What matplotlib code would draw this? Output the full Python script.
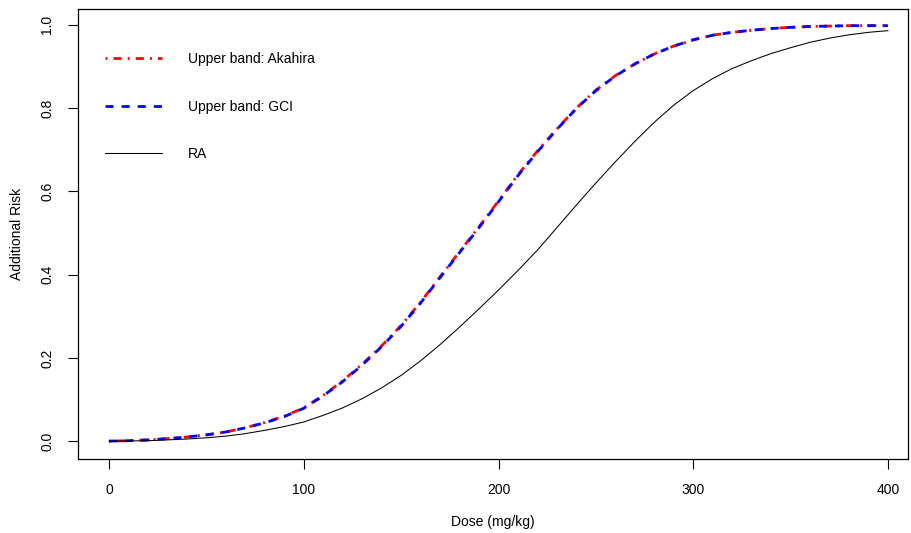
import numpy as np
import matplotlib.pyplot as plt

plt.rcParams['font.family'] = ['Liberation Sans', 'DejaVu Sans']

# doses and curves
dose = [0, 10, 20, 30, 40, 50, 60, 70, 80, 90, 100, 110, 120, 130, 140, 150,
        160, 170, 180, 190, 200, 210, 220, 230, 240, 250, 260, 270, 280, 290,
        300, 310, 320, 330, 340, 350, 360, 370, 380, 390, 400]
upper_akahira = [0.000, 0.001, 0.003, 0.006, 0.010, 0.015, 0.022, 0.032,
                 0.045, 0.060, 0.080, 0.110, 0.145, 0.185, 0.229, 0.278,
                 0.334, 0.395, 0.455, 0.515, 0.577, 0.640, 0.697, 0.750,
                 0.800, 0.843, 0.878, 0.906, 0.930, 0.949, 0.964, 0.975,
                 0.982, 0.987, 0.991, 0.994, 0.996, 0.997, 0.998, 0.998,
                 0.998]
upper_gci = [0.000, 0.001, 0.003, 0.006, 0.010, 0.015, 0.022, 0.032,
             0.044, 0.059, 0.079, 0.109, 0.143, 0.183, 0.227, 0.276,
             0.332, 0.393, 0.453, 0.513, 0.575, 0.638, 0.695, 0.749,
             0.799, 0.842, 0.877, 0.906, 0.930, 0.949, 0.964, 0.975,
             0.982, 0.987, 0.991, 0.994, 0.996, 0.997, 0.998, 0.998,
             0.998]
ra = [0.000, 0.0005, 0.001, 0.003, 0.005, 0.008, 0.012, 0.018, 0.026, 0.035,
      0.046, 0.062, 0.080, 0.102, 0.128, 0.158, 0.193, 0.232, 0.274, 0.318,
      0.363, 0.410, 0.459, 0.513, 0.567, 0.620, 0.671, 0.720, 0.766, 0.807,
      0.842, 0.871, 0.895, 0.914, 0.931, 0.945, 0.958, 0.968, 0.976, 0.982,
      0.986]

xticks = [0, 100, 200, 300, 400]
yticks = [0.0, 0.2, 0.4, 0.6, 0.8, 1.0]

fig = plt.figure(figsize=(9.11, 5.33), dpi=100)
ax = fig.add_axes([0.0856, 0.1388, 0.9111, 0.8443])

ax.plot(dose, upper_akahira, color='red', lw=2,
        linestyle=(0, (0.7, 2.2, 2.9, 2.2)), label='Upper band: Akahira')
ax.plot(dose, upper_gci, color='blue', lw=2,
        linestyle=(0, (2.9, 2.9)), label='Upper band: GCI')
ax.plot(dose, ra, color='black', lw=0.75, label='RA')

ax.set_xlim(-16, 410.3)
ax.set_ylim(-0.043, 1.038)
ax.set_xticks(xticks)
ax.set_xticklabels([str(t) for t in xticks])
ax.set_yticks(yticks)
ax.set_yticklabels(['%.1f' % t for t in yticks], rotation=90, va='center')
ax.tick_params(direction='out', length=7, width=0.8, labelsize=10, pad=10)

for s in ax.spines.values():
    s.set_linewidth(0.9)

ax.set_xlabel('Dose (mg/kg)', fontsize=10, labelpad=13)
ax.set_ylabel('Additional Risk', fontsize=10, labelpad=12)

ax.legend(loc='upper left', bbox_to_anchor=(0.0325, 0.904), frameon=False,
          fontsize=10, borderpad=0, borderaxespad=0, handlelength=4.1,
          handletextpad=1.85, labelspacing=2.4)

fig.savefig('out.png', dpi=100)
